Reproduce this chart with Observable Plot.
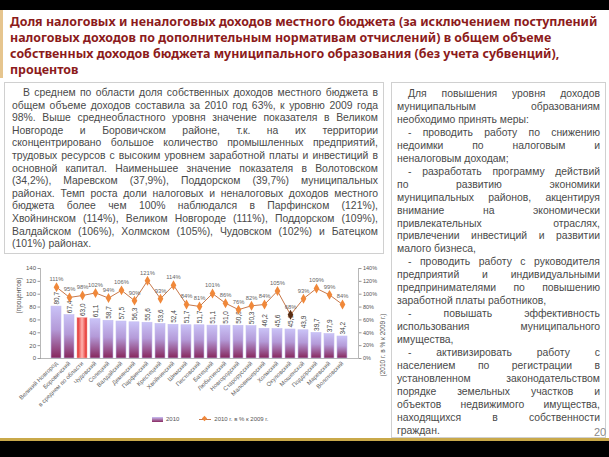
<!DOCTYPE html>
<html><head><meta charset="utf-8">
<script src="https://cdn.jsdelivr.net/npm/d3@7"></script>
<script src="https://cdn.jsdelivr.net/npm/@observablehq/plot@0.6"></script>
<style>
html,body{margin:0;padding:0;background:#fff;}
#page{position:relative;width:609px;height:457px;overflow:hidden;background:#fff;font-family:"Liberation Sans",Arial,sans-serif;}
#topband{position:absolute;left:0;top:0;width:609px;height:10px;background:#000;}
#accent{position:absolute;left:0;top:10px;width:3px;height:68px;background:#e6c58e;}
#title{position:absolute;left:10px;top:13.5px;width:598px;font-family:"Noto Sans",sans-serif;font-weight:bold;font-size:12.45px;line-height:16.3px;color:#8c1b1b;white-space:nowrap;}
.box{position:absolute;border:1px solid #d0d0d0;box-sizing:border-box;color:#4a4a4a;font-size:10.4px;}
.box .ln{white-space:nowrap;text-align:justify;text-align-last:justify;}
.box .ln.l{text-align:left;text-align-last:left;}
.box .ln.i{padding-left:11px;}
#left{left:4px;top:82px;width:380px;height:172px;padding:4px 5px 0 7px;line-height:12.6px;}
#right{left:391px;top:82px;width:215px;height:356px;padding:5px 5px 0 5px;line-height:12.95px;}
#chart{position:absolute;left:0;top:258px;}
#legend{position:absolute;left:152px;top:416px;font-size:6px;color:#555;white-space:nowrap;}
#legend span{display:inline-block;vertical-align:middle;}
#pnum{position:absolute;left:594px;top:426px;font-size:11px;color:#8a8a8a;}
#goldline{position:absolute;left:0;top:438px;width:609px;height:3px;background:#c9a94a;}
#botband{position:absolute;left:0;top:441px;width:609px;height:16px;background:#000;}
</style></head>
<body><div id="page">
<div id="topband"></div><div id="accent"></div>
<div id="title">Доля налоговых и неналоговых доходов местного бюджета (за исключением поступлений<br>налоговых доходов по дополнительным нормативам отчислений) в общем объеме<br>собственных доходов бюджета муниципального образования (без учета субвенций),<br>процентов</div>
<div class="box" id="left"></div>
<div class="box" id="right"></div>
<div id="chart"></div>
<div id="legend"><span style="width:11px;height:5px;background:linear-gradient(#c9c1f5,#8a2a62);"></span><span style="margin-left:3px">2010</span><span style="margin-left:20px;width:12px;height:1px;background:#c8784a;position:relative;"><span style="position:absolute;left:3px;top:-2.5px;width:5px;height:5px;background:#f0883a;transform:rotate(45deg) scale(0.75);"></span></span><span style="margin-left:3px">2010 г. в % к 2009 г.</span></div>
<div id="pnum">20</div>
<div id="goldline"></div><div id="botband"></div>
</div>
<script>
// ---- text content ----
const leftLines = [
 ["В среднем по области доля собственных доходов местного бюджета в","i"],
 ["общем объеме доходов составила за 2010 год 63%, к уровню 2009 года",""],
 ["98%. Выше среднеобластного уровня значение показателя в Великом",""],
 ["Новгороде и Боровичском районе, т.к. на их территории",""],
 ["сконцентрировано большое количество промышленных предприятий,",""],
 ["трудовых ресурсов с высоким уровнем заработной платы и инвестиций в",""],
 ["основной капитал. Наименьшее значение показателя в Волотовском",""],
 ["(34,2%), Маревском (37,9%), Поддорском (39,7%) муниципальных",""],
 ["районах.  Темп роста доли налоговых и неналоговых доходов местного",""],
 ["бюджета более чем 100%  наблюдался в Парфинском (121%),",""],
 ["Хвойнинском (114%), Великом Новгороде (111%), Поддорском (109%),",""],
 ["Валдайском (106%), Холмском (105%), Чудовском (102%) и Батецком",""],
 ["(101%) районах.","l"]
];
const rightLines = [
 ["Для повышения уровня доходов","i"],
 ["муниципальным образованиям",""],
 ["необходимо принять меры:","l"],
 ["- проводить работу по снижению","i"],
 ["недоимки по налоговым и",""],
 ["неналоговым доходам;","l"],
 ["- разработать программу действий","i"],
 ["по развитию экономики",""],
 ["муниципальных районов, акцентируя",""],
 ["внимание на экономически",""],
 ["привлекательных отраслях,",""],
 ["привлечении инвестиций и развитии",""],
 ["малого бизнеса,","l"],
 ["- проводить работу с руководителя","i"],
 ["предприятий и индивидуальными",""],
 ["предпринимателями по повышению",""],
 ["заработной платы работников,","l"],
 ["- повышать эффективность","i"],
 ["использования муниципального",""],
 ["имущества,","l"],
 ["- активизировать работу с","i"],
 ["населением по регистрации в",""],
 ["установленном законодательством",""],
 ["порядке земельных участков и",""],
 ["объектов недвижимого имущества,",""],
 ["находящихся в собственности",""],
 ["граждан.","l"]
];
function fill(id, lines){
  const el = document.getElementById(id);
  for (const [t,c] of lines){
    const d = document.createElement("div");
    d.className = "ln" + (c ? " " + c : "");
    d.textContent = t;
    el.appendChild(d);
  }
}
fill("left", leftLines);
fill("right", rightLines);

// ---- chart data ----
const categories = ["Великий Новгород","Боровичский","в среднем по области","Чудовский","Солецкий","Валдайский","Демянский","Парфинский","Крестецкий","Хвойнинский","Шимский","Пестовский","Батецкий","Любытинский","Новгородский","Старорусский","Маловишерский","Холмский","Окуловский","Мошенской","Поддорский","Маревский","Волотовский"];
const share2010 = [80.7,67.4,63.0,61.1,58.7,57.5,56.3,55.6,53.6,52.4,51.7,51.7,51.1,51.0,50.8,50.3,46.2,45.6,45.1,43.9,39.7,37.9,34.2];
const growth = [111,95,98,102,94,106,90,121,93,114,84,81,101,86,76,82,84,105,68,93,109,99,84];
const yTicks = [0,20,40,60,80,100,120,140];
const averageName = "в среднем по области";
const darkMarker = "Окуловский";

const data = categories.map((c,i)=>({cat:c, v:share2010[i], g:growth[i]}));
const fmt = v => v.toFixed(1).replace(".", ",");

const plot = Plot.plot({
  width: 390, height: 180,
  marginLeft: 40, marginRight: 32, marginTop: 10, marginBottom: 80,
  style: {fontFamily: "Liberation Sans, Arial, sans-serif", background: "transparent", overflow: "visible"},
  x: {domain: categories, paddingInner: 0.2, paddingOuter: 0.1},
  y: {domain: [0,140]},
  marks: [
    Plot.barY(data.filter(d=>d.cat!==averageName), {x:"cat", y:"v", fill:"url(#gradPurple)", stroke:"#c4bdf0", strokeWidth:0.6}),
    Plot.barY(data.filter(d=>d.cat===averageName), {x:"cat", y:"v", fill:"url(#gradRed)", stroke:"#f3b0b0", strokeWidth:0.6}),
    Plot.ruleY([0], {stroke:"#999", strokeWidth:0.7}),
    Plot.frame({anchor:"left", stroke:"#999", strokeWidth:0.7}),
    Plot.frame({anchor:"right", stroke:"#999", strokeWidth:0.7}),
    Plot.axisY({anchor:"left", ticks:yTicks, tickSize:2.5, tickPadding:2, fontSize:6, fill:"#555", stroke:"#999", label:null}),
    Plot.axisY({anchor:"right", ticks:yTicks, tickSize:2.5, tickPadding:2, fontSize:5.5, fill:"#555", stroke:"#999", tickFormat:d=>d+"%", label:null}),
    Plot.axisX({tickRotate:-45, tickSize:0, tickPadding:4, fontSize:6, fill:"#666", label:null}),
    Plot.text(["(процентов)"], {frameAnchor:"left", text:d=>d, rotate:-90, dx:-22, fontSize:6.5, fill:"#555"}),
    Plot.text(["(2010 г. в % к 2009 г.)"], {frameAnchor:"right", text:d=>d, rotate:-90, dx:24, fontSize:6.5, fill:"#555"}),
    Plot.text(data, {x:"cat", y:"v", text:d=>fmt(d.v), rotate:-90, textAnchor:"start", dy:-2, fontSize:6.5, fill:"#444"}),
    Plot.lineY(data, {x:"cat", y:"g", stroke:"#c8784a", strokeWidth:1}),
    Plot.dot(data, {x:"cat", y:"g", symbol:"diamond", r:3, fill:d=>d.cat===darkMarker?"#5a2d12":"#f0883a", stroke:"none"}),
    Plot.text(data, {x:"cat", y:"g", text:d=>d.g+"%", dy:-8, fontSize:5.8, fill:"#666"})
  ]
});
// gradients used as bar fills
const svg = d3.select(plot);
const defs = svg.insert("defs", ":first-child");
const gp = defs.append("linearGradient").attr("id","gradPurple").attr("x1",0).attr("y1",0).attr("x2",0).attr("y2",1);
gp.append("stop").attr("offset","0%").attr("stop-color","#cac3f7");
gp.append("stop").attr("offset","45%").attr("stop-color","#b49ad8");
gp.append("stop").attr("offset","100%").attr("stop-color","#86265c");
const gr = defs.append("linearGradient").attr("id","gradRed").attr("x1",0).attr("y1",0).attr("x2",1).attr("y2",0);
gr.append("stop").attr("offset","0%").attr("stop-color","#e0201c");
gr.append("stop").attr("offset","50%").attr("stop-color","#ffb4b0");
gr.append("stop").attr("offset","100%").attr("stop-color","#e0201c");
document.getElementById("chart").appendChild(plot);
</script>
</body></html>
